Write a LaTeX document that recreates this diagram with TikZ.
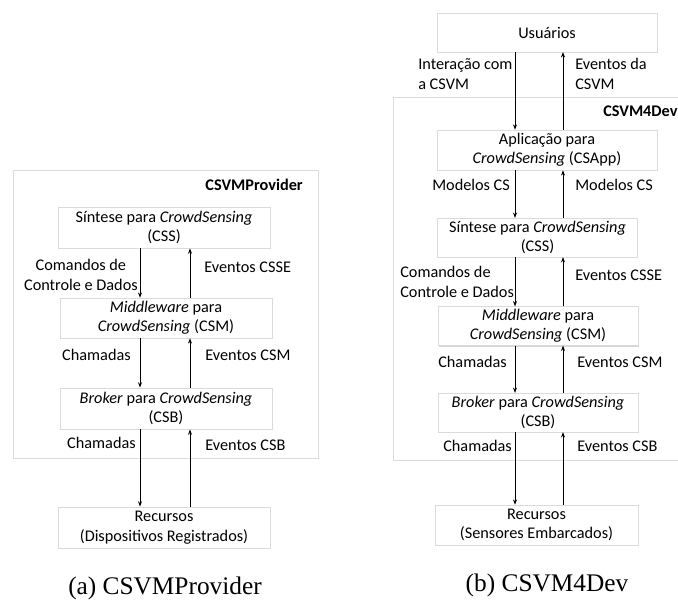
\documentclass[tikz,border=0pt]{standalone}
\usepackage{fontspec}
\setmainfont{Carlito}
\newfontfamily\capfont{Liberation Serif}
\usetikzlibrary{arrows.meta,shadows}

\tikzset{
    blk/.style={draw=black!14, fill=white, align=center, inner sep=1pt,
      drop shadow={shadow xshift=0.7pt, shadow yshift=-0.9pt, opacity=0.35, fill=black!45}},
    frame/.style={draw=black!14, fill=white,
      drop shadow={shadow xshift=0.7pt, shadow yshift=-0.9pt, opacity=0.35, fill=black!45}},
    lbl/.style={inner sep=0pt},
    arr/.style={-{Stealth[length=4pt,width=3pt]}, line width=0.6pt}
}

\begin{document}
\begin{tikzpicture}[x=0.75pt, y=-0.75pt, font=\fontsize{12.2}{14.6}\selectfont]
    \clip (0,0) rectangle (678,601);
    % (a) CSVMProvider
    \draw[frame] (13,170) rectangle (318,458);
    \node[lbl, anchor=east, font=\fontsize{12.2}{14.6}\selectfont\bfseries] (T1) at (303,185) {CSVMProvider};
    \node[blk, minimum width=159pt, minimum height=31pt] (CSS1) at (164,227.5)
      {Síntese para \textit{CrowdSensing}\\(CSS)};
    \node[blk, minimum width=159pt, minimum height=30pt] (CSM1) at (166,318)
      {\textit{Middleware} para\\\textit{CrowdSensing} (CSM)};
    \node[blk, minimum width=159pt, minimum height=31pt] (CSB1) at (166,408.5)
      {\textit{Broker} para \textit{CrowdSensing}\\(CSB)};
    \node[blk, minimum width=159pt, minimum height=31pt] (R1) at (164,527.5)
      {Recursos\\(Dispositivos Registrados)};
    \draw[arr] (CSS1.south -| 140,0) -- (CSM1.north -| 140,0);
    \draw[arr] (CSM1.north -| 190,0) -- (CSS1.south -| 190,0);
    \draw[arr] (CSM1.south -| 140,0) -- (CSB1.north -| 140,0);
    \draw[arr] (CSB1.north -| 190,0) -- (CSM1.south -| 190,0);
    \draw[arr] (CSB1.south -| 140,0) -- (R1.north -| 140,0);
    \draw[arr] (R1.north -| 190,0) -- (CSB1.south -| 190,0);
    \node[lbl, anchor=east, align=center] (L1) at (138,275) {Comandos de\\Controle e Dados};
    \node[lbl, anchor=west] (L2) at (204,267) {Eventos CSSE};
    \node[lbl, anchor=east] (L3) at (131,355) {Chamadas};
    \node[lbl, anchor=west] (L4) at (205,355) {Eventos CSM};
    \node[lbl, anchor=east] (L5) at (136,443) {Chamadas};
    \node[lbl, anchor=west] (L6) at (205,445) {Eventos CSB};
    \node[font=\capfont\fontsize{19}{22}\selectfont] (CA) at (165,588) {(a) CSVMProvider};

    % (b) CSVM4Dev
    \draw[frame] (393,97) rectangle (700,460);
    \node[lbl, anchor=west, font=\fontsize{12.2}{14.6}\selectfont\bfseries] (T2) at (603,111) {CSVM4Dev};
    \node[blk, minimum width=165pt, minimum height=29pt] (U) at (547,32.5) {Usuários};
    \node[blk, minimum width=165pt, minimum height=30pt] (APP) at (547,150)
      {Aplicação para\\\textit{CrowdSensing} (CSApp)};
    \node[blk, minimum width=150pt, minimum height=29pt] (CSS2) at (537.5,237.5)
      {Síntese para \textit{CrowdSensing}\\(CSS)};
    \node[blk, minimum width=150pt, minimum height=29pt] (CSM2) at (538,326)
      {\textit{Middleware} para\\\textit{CrowdSensing} (CSM)};
    \node[blk, minimum width=150pt, minimum height=29pt] (CSB2) at (538,412.5)
      {\textit{Broker} para \textit{CrowdSensing}\\(CSB)};
    \node[blk, minimum width=152pt, minimum height=30pt] (R2) at (536.5,525)
      {Recursos\\(Sensores Embarcados)};
    \draw[arr] (U.south -| 515,0) -- (APP.north -| 515,0);
    \draw[arr] (APP.north -| 563,0) -- (U.south -| 563,0);
    \draw[arr] (APP.south -| 515,0) -- (CSS2.north -| 515,0);
    \draw[arr] (CSS2.north -| 563,0) -- (APP.south -| 563,0);
    \draw[arr] (CSS2.south -| 515,0) -- (CSM2.north -| 515,0);
    \draw[arr] (CSM2.north -| 563,0) -- (CSS2.south -| 563,0);
    \draw[arr] (CSM2.south -| 515,0) -- (CSB2.north -| 515,0);
    \draw[arr] (CSB2.north -| 563,0) -- (CSM2.south -| 563,0);
    \draw[arr] (CSB2.south -| 515,0) -- (R2.north -| 515,0);
    \draw[arr] (R2.north -| 563,0) -- (CSB2.south -| 563,0);
    \node[lbl, anchor=west, align=left] (M1) at (418,74) {Interação com\\a CSVM};
    \node[lbl, anchor=west, align=left] (M2) at (575,74) {Eventos da\\CSVM};
    \node[lbl, anchor=west] (M3) at (432,185) {Modelos CS};
    \node[lbl, anchor=west] (M4) at (575,185) {Modelos CS};
    \node[lbl, anchor=west, align=left] (M5) at (400,282) {Comandos de\\Controle e Dados};
    \node[lbl, anchor=west] (M6) at (575,275) {Eventos CSSE};
    \node[lbl, anchor=west] (M7) at (438,362) {Chamadas};
    \node[lbl, anchor=west] (M8) at (577,362) {Eventos CSM};
    \node[lbl, anchor=west] (M9) at (443,446) {Chamadas};
    \node[lbl, anchor=west] (M10) at (577,446) {Eventos CSB};
    \node[font=\capfont\fontsize{19}{22}\selectfont] (CB) at (547,585) {(b) CSVM4Dev};
\end{tikzpicture}
\end{document}
